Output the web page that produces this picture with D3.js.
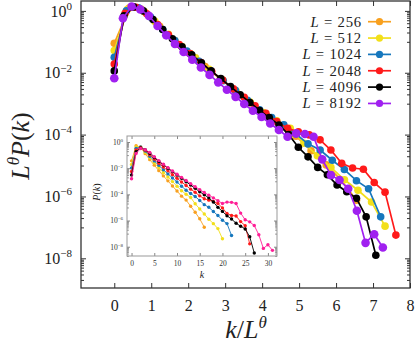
<!DOCTYPE html>
<html><head><meta charset="utf-8">
<script src="https://cdn.jsdelivr.net/npm/d3@7"></script>
<style>
body{margin:0;background:#fff}
svg{display:block}
text{font-family:"Liberation Serif","Times New Roman",serif}
</style>
</head><body>
<svg id="c" width="415" height="344"></svg>
<script>
// ---------------- data ----------------
const sizes = [256, 512, 1024, 2048, 4096, 8192];
const seriesLabels = ["256", "512", "1024", "2048", "4096", "8192"];
const colors = ["#F8A01E", "#F2DF1A", "#1677BD", "#FF1A1A", "#000000", "#A020F0"];
const insetColors = ["#F8A01E", "#F2DF1A", "#1677BD", "#FF1A1A", "#000000", "#FF1E96"];
const theta = 0.161;
// log10 of L^theta * P(k), for k = 0,1,2,...
const logY256  = [-1.05, 0.10, -0.03, -0.50, -0.96, -1.38, -1.80, -2.20, -2.58, -2.97, -3.36, -3.75, -4.05, -4.52, -4.98, -5.48, -6.12];
const logY512  = [-1.28, 0.06, 0.05, -0.34, -0.76, -1.15, -1.52, -1.89, -2.24, -2.59, -2.94, -3.29, -3.55, -3.80, -4.28, -4.68, -5.06, -5.46, -5.80, -6.18, -6.96];
const logY1024 = [-1.50, 0.00, 0.10, -0.20, -0.60, -0.96, -1.30, -1.63, -1.95, -2.26, -2.57, -2.89, -3.20, -3.45, -3.68, -3.98, -4.30, -4.50, -4.83, -5.13, -5.49, -5.75, -6.66];
const logY2048 = [-1.72, -0.08, 0.12, -0.09, -0.44, -0.77, -1.09, -1.38, -1.67, -1.96, -2.24, -2.52, -2.79, -3.07, -3.31, -3.58, -3.80, -3.91, -4.01, -4.17, -4.50, -4.93, -5.08, -5.12, -5.55, -5.86, -7.25];
const logY4096 = [-1.94, -0.16, 0.13, 0.00, -0.28, -0.60, -0.90, -1.16, -1.42, -1.68, -1.94, -2.19, -2.45, -2.71, -2.96, -3.22, -3.45, -3.69, -4.00, -4.41, -4.72, -5.06, -5.30, -5.63, -5.85, -6.06, -6.66, -7.90];
const logY8192 = [-2.18, -0.24, 0.14, 0.05, -0.16, -0.49, -0.79, -1.07, -1.33, -1.58, -1.83, -2.07, -2.31, -2.55, -2.78, -3.01, -3.23, -3.43, -3.64, -3.85, -4.07, -3.96, -3.98, -4.07, -4.80, -5.31, -5.47, -5.75, -6.46, -7.50, -7.22, -7.65];
const allLogY = [logY256, logY512, logY1024, logY2048, logY4096, logY8192];

const xTicks = [0, 1, 2, 3, 4, 5, 6, 7, 8];
const yLabelExps = [0, -2, -4, -6, -8];
const yOddExps = [-1, -3, -5, -7, -9];
const insetXTicks = [0, 5, 10, 15, 20, 25, 30];
const insetYLabelExps = [0, -2, -4, -6, -8];

// ---------------- build ----------------
const svg = d3.select("#c");
const M = {l: 81, r: 410, t: 1, b: 288};
const I = {l: 127, r: 277, t: 136, b: 256};

const x = d3.scaleLinear().domain([-0.9, 8]).range([M.l, M.r]);
const y = d3.scaleLog().domain([Math.pow(10, -8.96), Math.pow(10, 0.32)]).range([M.b, M.t]);
const xi = d3.scaleLinear().domain([-1, 32]).range([I.l, I.r]);
const yi = d3.scaleLog().domain([Math.pow(10, -8.71), Math.pow(10, 0.46)]).range([I.b, I.t]);

const series = allLogY.map((arr, i) => {
  const s = Math.pow(sizes[i], theta);
  return {
    i,
    main: arr.map((v, k) => ({x: k / s, y: Math.pow(10, v)})),
    inset: arr.map((v, k) => ({x: k, y: Math.pow(10, v) / s}))
  };
});

function minorVals(exps, dom) {
  const out = [];
  exps.forEach(e => { for (let m = 1; m <= 9; m++) { const v = m * Math.pow(10, e); if (v >= dom[0] && v <= dom[1]) out.push(v); } });
  return out;
}

function makeAxis(axis, tr, color) {
  const g = svg.append("g").attr("transform", tr).call(axis);
  g.select(".domain").remove();
  g.attr("color", color);
  return g;
}

function supLabels(g, exps, size, supSize, supDy) {
  g.selectAll(".tick text").each(function(d, j) {
    const t = d3.select(this);
    t.text(null).attr("font-size", size).attr("font-family", '"Liberation Serif","Times New Roman",serif');
    t.append("tspan").text("10");
    const e = Math.round(Math.log10(d));
    t.append("tspan").attr("dy", supDy).attr("font-size", supSize).text(e < 0 ? "\u2212" + (-e) : String(e));
  });
}

// ---- main axes ----
const yDom = y.domain();
const yLabVals = yLabelExps.map(e => Math.pow(10, e));
const yMinVals = minorVals(yOddExps, yDom);

const axL = makeAxis(d3.axisLeft(y).tickValues(yLabVals).tickSizeInner(-5).tickSizeOuter(0).tickPadding(9).tickFormat(() => ""), `translate(${M.l},0)`, "#333");
supLabels(axL, yLabelExps, 16, 11, "-0.62em");
axL.selectAll(".tick text").attr("fill", "#222");
makeAxis(d3.axisLeft(y).tickValues(yMinVals).tickSizeInner(-3).tickSizeOuter(0).tickFormat(() => ""), `translate(${M.l},0)`, "#333");
makeAxis(d3.axisRight(y).tickValues(yLabVals).tickSizeInner(-5).tickSizeOuter(0).tickFormat(() => ""), `translate(${M.r},0)`, "#333");
makeAxis(d3.axisRight(y).tickValues(yMinVals).tickSizeInner(-3).tickSizeOuter(0).tickFormat(() => ""), `translate(${M.r},0)`, "#333");

const axB = makeAxis(d3.axisBottom(x).tickValues(xTicks).tickSizeInner(-5).tickSizeOuter(0).tickPadding(12).tickFormat(d3.format("d")), `translate(0,${M.b})`, "#333");
axB.selectAll(".tick text").attr("font-size", 16).attr("font-family", '"Liberation Serif","Times New Roman",serif').attr("fill", "#222");
makeAxis(d3.axisTop(x).tickValues(xTicks).tickSizeInner(-5).tickSizeOuter(0).tickFormat(() => ""), `translate(0,${M.t})`, "#333");

svg.append("rect").attr("x", M.l).attr("y", M.t).attr("width", M.r - M.l).attr("height", M.b - M.t)
  .attr("fill", "none").attr("stroke", "#333").attr("stroke-width", 1.3);

// ---- main series ----
const line = d3.line().x(d => x(d.x)).y(d => y(d.y));
const gMain = svg.append("g");
series.forEach(s => {
  const g = gMain.append("g");
  g.append("path").attr("d", line(s.main)).attr("fill", "none").attr("stroke", colors[s.i]).attr("stroke-width", 1.7);
  g.selectAll("circle").data(s.main).join("circle")
    .attr("cx", d => x(d.x)).attr("cy", d => y(d.y)).attr("r", s.i === 5 ? 4.3 : 3.8).attr("fill", colors[s.i]);
});

// ---- legend ----
const leg = svg.append("g");
seriesLabels.forEach((lab, i) => {
  const yy = 21.7 + 16.35 * i;
  const t = leg.append("text").attr("x", 362).attr("y", yy + 5).attr("text-anchor", "end")
    .attr("font-size", 14.7).attr("letter-spacing", 0.8).attr("fill", "#222");
  t.append("tspan").attr("font-style", "italic").text("L");
  t.append("tspan").text(" = " + lab);
  leg.append("line").attr("x1", 368).attr("x2", 391).attr("y1", yy).attr("y2", yy).attr("stroke", colors[i]).attr("stroke-width", 1.7);
  leg.append("circle").attr("cx", 379.5).attr("cy", yy).attr("r", 3.6).attr("fill", colors[i]);
});

// ---- axis titles ----
const xt = svg.append("text").attr("x", 246).attr("y", 338).attr("text-anchor", "middle").attr("font-size", 26).attr("fill", "#222");
xt.append("tspan").attr("font-style", "italic").text("k");
xt.append("tspan").text("/");
xt.append("tspan").attr("font-style", "italic").text("L");
xt.append("tspan").attr("font-style", "italic").attr("font-size", 17).attr("dy", "-0.6em").text("\u03B8");

const yt = svg.append("text").attr("transform", "translate(29,146) rotate(-90)").attr("text-anchor", "middle").attr("font-size", 26).attr("fill", "#222");
yt.append("tspan").attr("font-style", "italic").text("L");
yt.append("tspan").attr("font-style", "italic").attr("font-size", 17).attr("dy", "-0.6em").text("\u03B8");
yt.append("tspan").attr("font-style", "italic").attr("dy", "0.39em").text("P");
yt.append("tspan").text("(");
yt.append("tspan").attr("font-style", "italic").text("k");
yt.append("tspan").text(")");

// ---------------- inset ----------------
svg.append("rect").attr("x", I.l).attr("y", I.t).attr("width", I.r - I.l).attr("height", I.b - I.t).attr("fill", "#fff");
const yiDom = yi.domain();
const yiLabVals = insetYLabelExps.map(e => Math.pow(10, e));
const yiMinVals = minorVals(yOddExps, yiDom);
const ic = "#888";
const iaL = makeAxis(d3.axisLeft(yi).tickValues(yiLabVals).tickSizeInner(-3).tickSizeOuter(0).tickPadding(4).tickFormat(() => ""), `translate(${I.l},0)`, ic);
supLabels(iaL, insetYLabelExps, 7.5, 5, "-0.6em");
iaL.selectAll(".tick text").attr("fill", "#333");
makeAxis(d3.axisLeft(yi).tickValues(yiMinVals).tickSizeInner(-1.8).tickSizeOuter(0).tickFormat(() => ""), `translate(${I.l},0)`, ic);
makeAxis(d3.axisRight(yi).tickValues(yiLabVals).tickSizeInner(-3).tickSizeOuter(0).tickFormat(() => ""), `translate(${I.r},0)`, ic);
makeAxis(d3.axisRight(yi).tickValues(yiMinVals).tickSizeInner(-1.8).tickSizeOuter(0).tickFormat(() => ""), `translate(${I.r},0)`, ic);
const iaB = makeAxis(d3.axisBottom(xi).tickValues(insetXTicks).tickSizeInner(-3).tickSizeOuter(0).tickPadding(5).tickFormat(d3.format("d")), `translate(0,${I.b})`, ic);
iaB.selectAll(".tick text").attr("font-size", 7.5).attr("font-family", '"Liberation Serif","Times New Roman",serif').attr("fill", "#333");
makeAxis(d3.axisTop(xi).tickValues(insetXTicks).tickSizeInner(-3).tickSizeOuter(0).tickFormat(() => ""), `translate(0,${I.t})`, ic);
svg.append("rect").attr("x", I.l).attr("y", I.t).attr("width", I.r - I.l).attr("height", I.b - I.t)
  .attr("fill", "none").attr("stroke", "#999").attr("stroke-width", 1);

const iline = d3.line().x(d => xi(d.x)).y(d => yi(d.y));
series.forEach(s => {
  const g = svg.append("g");
  g.append("path").attr("d", iline(s.inset)).attr("fill", "none").attr("stroke", insetColors[s.i]).attr("stroke-width", 0.9);
  g.selectAll("circle").data(s.inset).join("circle")
    .attr("cx", d => xi(d.x)).attr("cy", d => yi(d.y)).attr("r", 1.7).attr("fill", insetColors[s.i]);
});

const ixt = svg.append("text").attr("x", 202).attr("y", 278).attr("text-anchor", "middle").attr("font-size", 10).attr("font-style", "italic").attr("fill", "#222").text("k");
const iyt = svg.append("text").attr("transform", "translate(100,192) rotate(-90)").attr("text-anchor", "middle").attr("font-size", 10).attr("fill", "#222");
iyt.append("tspan").attr("font-style", "italic").text("P");
iyt.append("tspan").text("(");
iyt.append("tspan").attr("font-style", "italic").text("k");
iyt.append("tspan").text(")");
</script>
</body></html>
